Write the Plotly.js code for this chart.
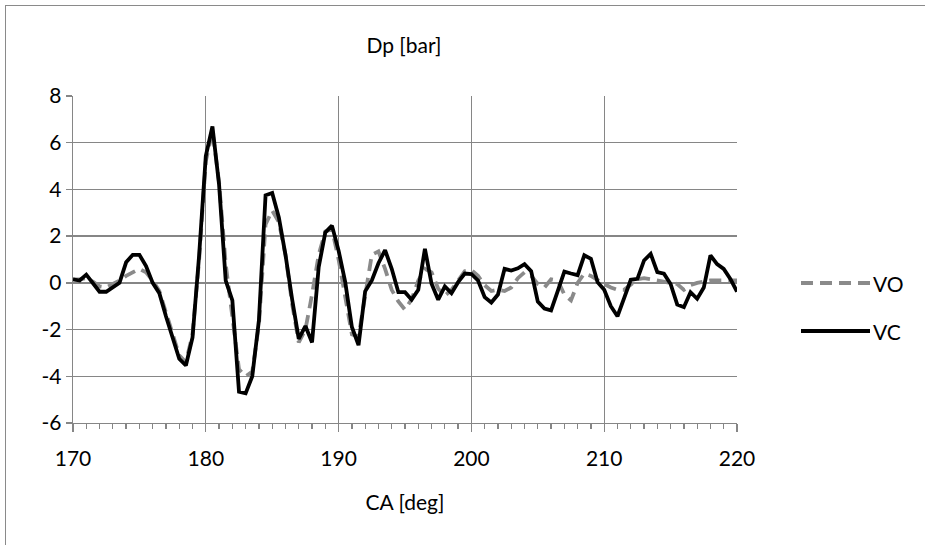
<!DOCTYPE html>
<html>
<head>
<meta charset="utf-8">
<script src="https://cdn.plot.ly/plotly-3.0.1.min.js"></script>
<style>
  html, body { margin: 0; padding: 0; background: #fff; }
  #wrap { position: relative; width: 925px; height: 545px; overflow: hidden; }
  #chart { position: absolute; left: 0; top: 0; width: 925px; height: 545px; }
  #frame { position: absolute; left: 5px; top: 5px; width: 1000px; height: 1000px;
           border-left: 1px solid #8a8a8a; border-top: 1px solid #8a8a8a; pointer-events: none; }
</style>
</head>
<body>
<div id="wrap"><div id="chart"></div><div id="frame"></div></div>
<script>
// Crank angle [deg], 0.5 deg steps
const caStart = 170, caStep = 0.5;
const VO = [
  0.15, 0.15, 0.2, 0.05, -0.15, -0.2, -0.05, 0.1, 0.3, 0.45,
  0.6, 0.45, 0.1, -0.35, -1.3, -2.2, -3.1, -3.4, -2.2, 1.0,
  5.2, 6.5, 4.3, 0.8, -1.6, -3.7, -4.0, -3.8, -1.8, 2.5,
  3.1, 2.6, 1.2, -0.9, -2.55, -2.0, -0.5, 1.2, 2.2, 2.3,
  1.0, -0.5, -2.2, -2.3, -0.5, 1.2, 1.35, 0.6, -0.3, -0.8,
  -1.15, -0.7, 0.1, 0.6, 0.45, -0.25, -0.55, -0.3, 0.1, 0.5,
  0.55, 0.3, -0.1, -0.35, -0.3, -0.35, -0.2, 0.2, 0.45, 0.3,
  -0.05, -0.2, 0.15, 0.1, -0.5, -0.75, 0.0, 0.4, 0.3, 0.1,
  -0.05, -0.2, -0.3, -0.3, -0.05, 0.15, 0.2, 0.15, 0.1, 0.05,
  0.0, -0.05, -0.3, -0.1, 0.0, 0.05, 0.1, 0.1, 0.1, 0.1,
  0.1
];
const VC = [
  0.15, 0.1, 0.35, 0.0, -0.38, -0.38, -0.18, 0.0, 0.88, 1.2,
  1.2, 0.72, 0.0, -0.44, -1.43, -2.3, -3.25, -3.54, -2.34, 1.2,
  5.43, 6.7, 4.2, 0.1, -0.75, -4.66, -4.73, -4.0, -1.6, 3.75,
  3.85, 2.8, 1.2, -0.7, -2.4, -1.85, -2.55, 0.67, 2.16, 2.45,
  1.38, 0.03, -1.89, -2.67, -0.36, 0.1, 0.84, 1.4, 0.6, -0.4,
  -0.4, -0.72, -0.3, 1.46, -0.04, -0.72, -0.15, -0.44, 0.03, 0.4,
  0.38, 0.1, -0.61, -0.84, -0.5, 0.6, 0.53, 0.62, 0.8, 0.5,
  -0.8, -1.1, -1.18, -0.35, 0.48, 0.4, 0.33, 1.18, 1.03, 0.03,
  -0.3, -1.0, -1.43, -0.65, 0.13, 0.17, 0.96, 1.24, 0.46, 0.39,
  -0.05, -0.93, -1.04, -0.4, -0.68, -0.2, 1.18, 0.8, 0.6, 0.17,
  -0.38
];
const CA = VO.map((_, i) => caStart + i * caStep);
const seriesNames = ["VO", "VC"];
const xTicks = [170, 180, 190, 200, 210, 220];
const yTicks = [-6, -4, -2, 0, 2, 4, 6, 8];

const FONT = "Lato, 'Open Sans', sans-serif";
const FS = 21;
const GRID = "#868686";
const GRAYLINE = "#8a8a8a";
const LW = 3.8;
const DASH = "12px,7px";

const traces = [
  { x: CA, y: VO, name: seriesNames[0], mode: "lines",
    line: { color: GRAYLINE, width: LW, dash: DASH }, showlegend: false },
  { x: CA, y: VC, name: seriesNames[1], mode: "lines",
    line: { color: "#000000", width: LW }, showlegend: false }
];

// legend drawn in paper coordinates
const L = 73, R = 737, T = 96, B = 423;
const px = v => (v - L) / (R - L);
const py = v => (B - v) / (B - T);
const legY = [283, 331];

const layout = {
  width: 925, height: 545,
  margin: { l: L, r: 925 - R, t: T, b: 545 - B },
  paper_bgcolor: "rgba(0,0,0,0)", plot_bgcolor: "#fff",
  font: { family: FONT, size: FS, color: "#000" },
  title: { text: "Dp [bar]", x: px(404), xanchor: "center", xref: "paper",
           y: 1 - 46 / 545, yref: "container", yanchor: "middle",
           font: { family: FONT, size: FS, color: "#000" } },
  showlegend: false,
  xaxis: {
    range: [170, 220], tickvals: xTicks, ticktext: xTicks.map(String),
    showgrid: true, gridcolor: GRID, gridwidth: 1.3,
    showline: true, linecolor: GRID, linewidth: 1.3,
    ticks: "outside", ticklen: 8, tickcolor: GRID, tickwidth: 1.3,
    ticklabelstandoff: 8,
    minor: { dtick: 1, ticks: "outside", ticklen: 5, tickcolor: GRID, tickwidth: 1.3, showgrid: false },
    zeroline: false, mirror: false,
    title: { text: "CA [deg]", standoff: 26, font: { family: FONT, size: FS, color: "#000" } },
    tickfont: { family: FONT, size: FS, color: "#000" }
  },
  yaxis: {
    range: [-6, 8], tickvals: yTicks, ticktext: yTicks.map(String),
    showgrid: true, gridcolor: GRID, gridwidth: 1.3,
    showline: true, linecolor: GRID, linewidth: 1.3,
    ticks: "outside", ticklen: 6, tickcolor: GRID, tickwidth: 1.3,
    zeroline: false,
    tickfont: { family: FONT, size: FS, color: "#000" }
  },
  shapes: [
    { type: "line", xref: "paper", yref: "paper", x0: px(801), x1: px(870), y0: py(legY[0]), y1: py(legY[0]),
      line: { color: GRAYLINE, width: LW, dash: DASH } },
    { type: "line", xref: "paper", yref: "paper", x0: px(801), x1: px(870), y0: py(legY[1]), y1: py(legY[1]),
      line: { color: "#000", width: LW } }
  ],
  annotations: [
    { xref: "paper", yref: "paper", x: px(871), y: py(legY[0]), xanchor: "left", yanchor: "middle",
      text: seriesNames[0], showarrow: false, font: { family: FONT, size: FS, color: "#000" } },
    { xref: "paper", yref: "paper", x: px(871), y: py(legY[1]), xanchor: "left", yanchor: "middle",
      text: seriesNames[1], showarrow: false, font: { family: FONT, size: FS, color: "#000" } }
  ]
};

Plotly.newPlot("chart", traces, layout, { displayModeBar: false, staticPlot: true });
</script>
</body>
</html>
